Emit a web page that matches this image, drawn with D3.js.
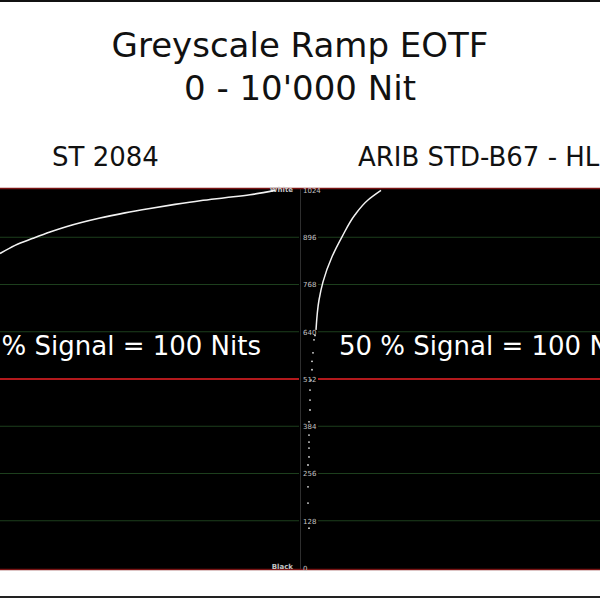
<!DOCTYPE html>
<html><head><meta charset="utf-8">
<script src="https://cdn.jsdelivr.net/npm/d3@7"></script>
<style>html,body{margin:0;padding:0;background:#fff;}svg{display:block;}</style>
</head><body>
<script>
// ---- data ----
const titleLines = ["Greyscale Ramp EOTF", "0 - 10'000 Nit"];
const panelTitles = ["ST 2084", "ARIB STD-B67 - HLG"];
const panelNotes = ["50 % Signal = 100 Nits", "50 % Signal = 100 Nits"];
// 10-bit code value ticks on the waveform graticule
const tickValues = [0, 128, 256, 384, 512, 640, 768, 896, 1024];
const tickLabels = ["0", "128", "256", "384", "512", "640", "768", "896", "1024"];
// ST 2084 (PQ) trace: screen column vs. code value
const pqColumn = [0, 15, 33, 50, 67, 100, 125, 150, 175, 200, 225, 250, 275];
const pqCode   = [852, 874, 893, 910, 925, 948, 962, 974, 985, 995, 1003, 1011, 1023];
// HLG trace, continuous upper part
const hlgColumn = [316, 319, 323, 332, 342, 355, 368, 381];
const hlgCode   = [645, 726, 775, 843, 897, 957, 997, 1023];
// HLG trace, sparse lower samples (dots)
const hlgDotColumn = [315, 314, 313, 312, 312, 311, 310, 310, 310, 309, 309, 309, 309, 309, 308, 308, 308, 309];
const hlgDotCode   = [630, 618, 583, 560, 537, 509, 482, 455, 428, 396, 360, 341, 325, 301, 279, 220, 176, 108];

const W = 600, H = 598;
const panelTop = 188, panelBottom = 570;
const svg = d3.select("body").append("svg").attr("width", W).attr("height", H)
  .style("font-family", "'DejaVu Sans', sans-serif");
svg.append("rect").attr("width", W).attr("height", H).attr("fill", "#fff");
svg.append("rect").attr("x", 0).attr("y", 0).attr("width", W).attr("height", 2).attr("fill", "#111");
svg.append("rect").attr("x", 0).attr("y", 596).attr("width", W).attr("height", 2).attr("fill", "#222");

// titles
svg.append("text").attr("x", 300).attr("y", 57).attr("text-anchor", "middle")
  .attr("font-size", 34).attr("fill", "#111").text(titleLines[0]);
svg.append("text").attr("x", 300).attr("y", 100).attr("text-anchor", "middle")
  .attr("font-size", 34).attr("fill", "#111").text(titleLines[1]);
svg.append("text").attr("x", 52).attr("y", 166).attr("font-size", 26).attr("fill", "#111").text(panelTitles[0]);
svg.append("text").attr("x", 358).attr("y", 166).attr("font-size", 26).attr("fill", "#111").text(panelTitles[1]);

// scales
const x = d3.scaleLinear().domain([0, 600]).range([0, 600]);
const y = d3.scaleLinear().domain([0, 1024]).range([568, 190]);

// waveform background
svg.append("rect").attr("x", 0).attr("y", panelTop).attr("width", W)
  .attr("height", panelBottom - panelTop).attr("fill", "#000");

// graticule
const g = svg.append("g");
const inner = tickValues.filter(v => v > 0 && v < 1024);
inner.forEach(v => {
  const col = v === 512 ? "#b3191c" : "#1d3f1d";
  const sw = v === 512 ? 2 : 1;
  g.append("line").attr("x1", 0).attr("x2", 299).attr("y1", y(v)).attr("y2", y(v))
    .attr("stroke", col).attr("stroke-width", sw);
  g.append("line").attr("x1", 318).attr("x2", W).attr("y1", y(v)).attr("y2", y(v))
    .attr("stroke", col).attr("stroke-width", sw);
});
g.append("line").attr("x1", 300.5).attr("x2", 300.5).attr("y1", panelTop).attr("y2", panelBottom)
  .attr("stroke", "#2e2e2e").attr("stroke-width", 1);
g.append("line").attr("x1", 0).attr("x2", W).attr("y1", panelTop + 0.5).attr("y2", panelTop + 0.5)
  .attr("stroke", "#7a1414").attr("stroke-width", 1.5);
g.append("line").attr("x1", 0).attr("x2", W).attr("y1", panelBottom - 0.5).attr("y2", panelBottom - 0.5)
  .attr("stroke", "#7a1414").attr("stroke-width", 1.5);

// axis labels
const axis = d3.axisRight(y).tickValues(tickValues).tickSize(0).tickPadding(3)
  .tickFormat((d, i) => tickLabels[i]);
const ag = svg.append("g").attr("transform", "translate(300,0)").call(axis);
ag.select(".domain").remove();
ag.selectAll("text").attr("font-size", 7).attr("fill", "#c4c4c4")
  .attr("font-family", "'DejaVu Sans', sans-serif");
svg.append("text").attr("x", 293).attr("y", y(1024)).attr("dy", "0.35em").attr("text-anchor", "end")
  .attr("font-size", 7).attr("font-weight", "bold").attr("fill", "#c4c4c4").text("White");
svg.append("text").attr("x", 293).attr("y", y(0) - 1).attr("dy", "0.35em").attr("text-anchor", "end")
  .attr("font-size", 7).attr("font-weight", "bold").attr("fill", "#c4c4c4").text("Black");

// notes
svg.append("text").attr("x", 261).attr("y", 355).attr("text-anchor", "end")
  .attr("font-size", 26).attr("fill", "#fff").text(panelNotes[0]);
svg.append("text").attr("x", 339).attr("y", 355)
  .attr("font-size", 26).attr("fill", "#fff").text(panelNotes[1]);

// traces
const line = d3.line().x(d => x(d[0])).y(d => y(d[1])).curve(d3.curveMonotoneX);
svg.append("path").datum(pqColumn.map((c, i) => [c, pqCode[i]]))
  .attr("d", line).attr("fill", "none").attr("stroke", "#f2f2f2").attr("stroke-width", 1.6);
const lineY = d3.line().x(d => x(d[0])).y(d => y(d[1])).curve(d3.curveMonotoneY);
svg.append("path").datum(hlgColumn.map((c, i) => [c, hlgCode[i]]))
  .attr("d", lineY).attr("fill", "none").attr("stroke", "#f2f2f2").attr("stroke-width", 1.5);
svg.append("g").selectAll("circle").data(hlgDotColumn.map((c, i) => [c, hlgDotCode[i]]))
  .join("circle").attr("cx", d => x(d[0])).attr("cy", d => y(d[1])).attr("r", 0.9)
  .attr("fill", "#e0e0e0");
</script>
</body></html>
